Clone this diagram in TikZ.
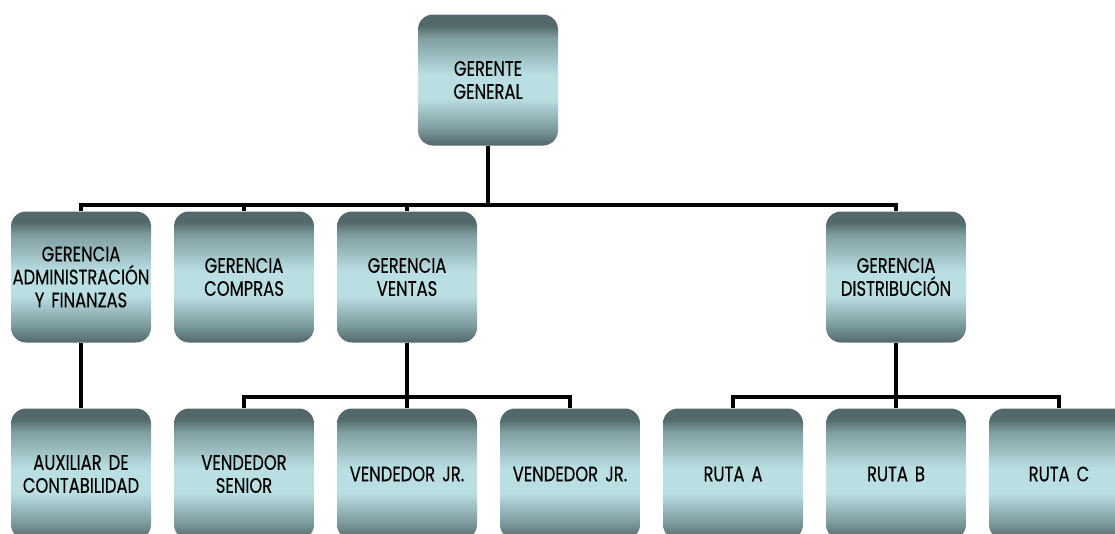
\documentclass[tikz,border=0pt]{standalone}
\usepackage{fontspec}
\setmainfont{Poppins}[FakeStretch=0.78, FakeBold=0.3]
\usepackage{tikz}
\definecolor{boxdark}{RGB}{82,104,106}
\definecolor{boxmid}{RGB}{128,158,161}
\definecolor{boxlight}{RGB}{186,223,227}
% dark at top and bottom, light band a bit below the middle
\pgfdeclareverticalshading{boxshade}{100bp}{%
  color(0bp)=(boxdark); color(25bp)=(boxdark); color(32bp)=(boxmid);
  color(43bp)=(boxlight); color(52bp)=(boxlight); color(66bp)=(boxmid);
  color(71bp)=(boxdark); color(100bp)=(boxdark)}
\tikzset{
  puesto/.style={rounded corners=15pt, shading=boxshade,
    minimum width=140pt, minimum height=131pt, text width=140pt,
    align=center, inner sep=0pt,
    font=\fontsize{21}{23}\selectfont},
  linea/.style={line width=4pt}
}

\begin{document}
\begin{tikzpicture}[x=1pt, y=-1pt]
\useasboundingbox (0,0) rectangle (1115,533);
\clip (0,0) rectangle (1115,533);

% nivel 1
\node[puesto] (gerente) at (488,80) {GERENTE\\GENERAL};

% nivel 2
\node[puesto] (admin) at (81,277) {GERENCIA\\ADMINISTRACIÓN\\Y FINANZAS};
\node[puesto] (compras) at (244,277) {GERENCIA\\COMPRAS};
\node[puesto] (ventas) at (407,277) {GERENCIA\\VENTAS};
\node[puesto] (distrib) at (896,277) {GERENCIA\\DISTRIBUCIÓN};

% nivel 3
\node[puesto] (auxiliar) at (81,474) {AUXILIAR DE\\CONTABILIDAD};
\node[puesto] (senior) at (244,474) {VENDEDOR\\SENIOR};
\node[puesto] (junior) at (407,474) {VENDEDOR JR.};
\node[puesto] (juniorb) at (570,474) {VENDEDOR JR.};
\node[puesto] (rutaa) at (733,474) {RUTA A};
\node[puesto] (rutab) at (896,474) {RUTA B};
\node[puesto] (rutac) at (1059,474) {RUTA C};

% lineas de mando
\foreach \n in {admin,compras,ventas,distrib}
  \draw[linea] (gerente.south) -- ++(0,59) -| (\n.north);
\draw[linea] (admin.south) -- (auxiliar.north);
\foreach \n in {senior,junior,juniorb}
  \draw[linea] (ventas.south) -- ++(0,54) -| (\n.north);
\foreach \n in {rutaa,rutab,rutac}
  \draw[linea] (distrib.south) -- ++(0,54) -| (\n.north);
\end{tikzpicture}
\end{document}
